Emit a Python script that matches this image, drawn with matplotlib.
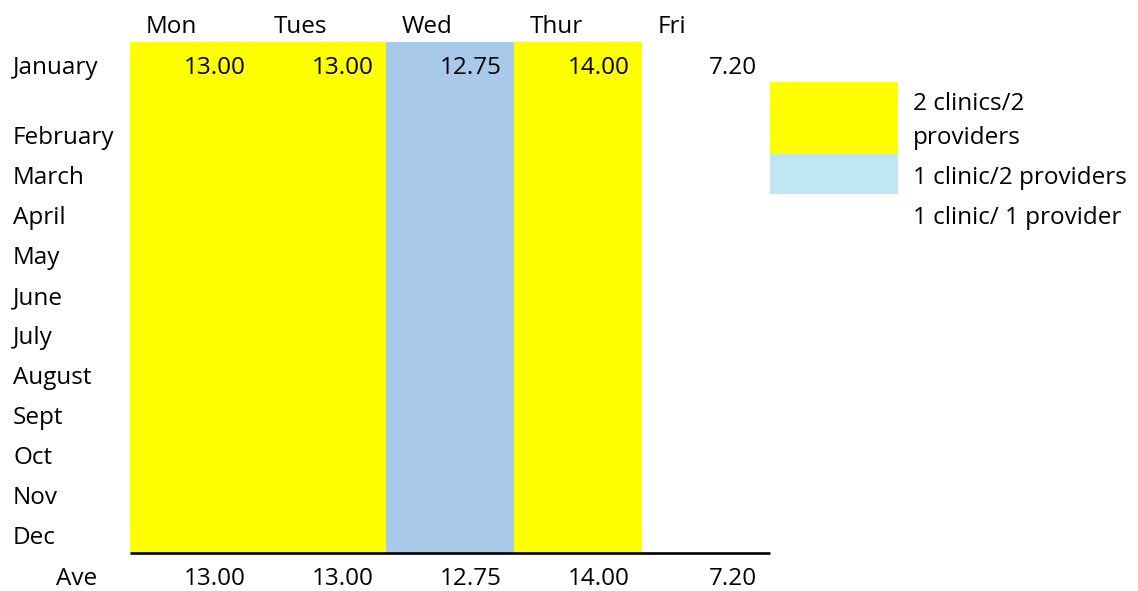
import matplotlib
matplotlib.use("Agg")
import matplotlib.pyplot as plt
from matplotlib.patches import Rectangle

days = ["Mon", "Tues", "Wed", "Thur", "Fri"]
months = ["January", "February", "March", "April", "May", "June", "July",
          "August", "Sept", "Oct", "Nov", "Dec"]
january_values = [13.00, 13.00, 12.75, 14.00, 7.20]
ave_values = [13.00, 13.00, 12.75, 14.00, 7.20]
day_category = [0, 0, 1, 0, 2]
legend_labels = ["2 clinics/2\nproviders", "1 clinic/2 providers", "1 clinic/ 1 provider"]
column_colors = ["#FFFF00", "#A9C9EB", None]
legend_colors = ["#FFFF00", "#C0E6F5", None]

W, H = 1138, 591
fig = plt.figure(figsize=(W / 100, H / 100), dpi=100)
ax = fig.add_axes([0, 0, 1, 1])
ax.set_axis_off()

# coordinate system: x in column units (col i spans i..i+1), y in pixels (top down)
col_w = 128.0
x0 = 130.0
ax.set_xlim(-x0 / col_w, (W - x0) / col_w)
ax.set_ylim(H, 0)

font = dict(family=["Open Sans", "DejaVu Sans"], fontsize=17.5, color="black")
dy = 2  # baseline nudge

fill_top, fill_bottom = 42, 553
header_y = 25
jan_y = 66
month_y0, row_h = 136, 40
ave_y = 577

# column fills
for i, cat in enumerate(day_category):
    c = column_colors[cat]
    if c is not None:
        ax.bar(i, fill_bottom - fill_top, bottom=fill_top, width=1, align="edge",
               color=c, linewidth=0)

# headers
for i, d in enumerate(days):
    ax.text(i + 0.12, header_y + dy, d, ha="left", va="center", **font)

# month labels
for j, m in enumerate(months):
    y = jan_y if j == 0 else month_y0 + row_h * (j - 1)
    ax.text((13 - x0) / col_w, y + dy, m, ha="left", va="center", **font)

# January values
for i, v in enumerate(january_values):
    ax.text(i + 0.9, jan_y + dy, f"{v:.2f}", ha="right", va="center", **font)

# bottom rule
ax.plot([0, len(days)], [fill_bottom, fill_bottom], color="black", lw=1.9,
        solid_capstyle="butt")

# averages
ax.text((97 - x0) / col_w, ave_y + dy, "Ave", ha="right", va="center", **font)
for i, v in enumerate(ave_values):
    ax.text(i + 0.9, ave_y + dy, f"{v:.2f}", ha="right", va="center", **font)

# legend
lx = len(days)
ax.add_patch(Rectangle((lx, 82), 1, 72, facecolor=legend_colors[0], linewidth=0))
ax.add_patch(Rectangle((lx, 154), 1, 40, facecolor=legend_colors[1], linewidth=0))
tx = (913 - x0) / col_w
ax.text(tx, 102 + dy, "2 clinics/2", ha="left", va="center", **font)
ax.text(tx, 136 + dy, "providers", ha="left", va="center", **font)
ax.text(tx, 176 + dy, legend_labels[1], ha="left", va="center", **font)
ax.text(tx, 216 + dy, legend_labels[2], ha="left", va="center", **font)

fig.savefig("out.png", dpi=100, facecolor="white")
